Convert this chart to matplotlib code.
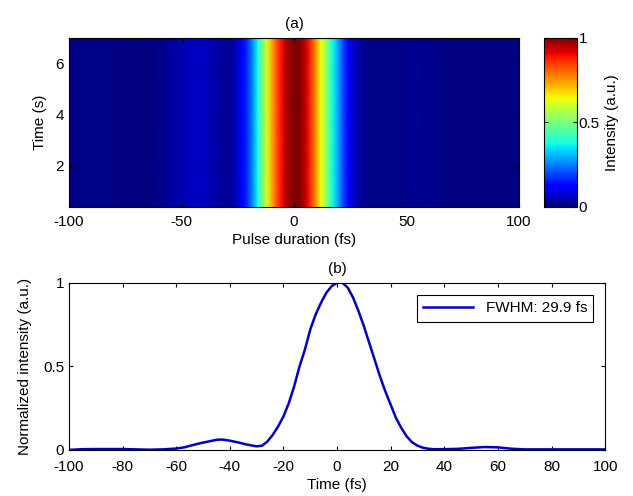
import numpy as np
import matplotlib
matplotlib.use('Agg')
import matplotlib.pyplot as plt

plt.rcParams['font.family'] = ['Liberation Sans', 'DejaVu Sans']
plt.rcParams['font.size'] = 11
plt.rcParams['axes.unicode_minus'] = False

# delay axis (fs) and measured normalized intensity profile
delay_fs = np.array([-100, -95, -90, -80, -75, -70, -65, -60, -57, -54, -51, -48, -45, -43,
                     -40, -37, -34, -31, -30, -28, -26, -24, -22, -20, -18, -16, -14, -12,
                     -10, -8, -6, -4, -2, 0, 2, 4, 6, 8, 10, 12, 14, 16, 18, 20, 22, 24,
                     26, 28, 30, 32, 34, 36, 40, 45, 50, 55, 60, 65, 70, 80, 90, 100])
intensity = np.array([0.0, 0.004, 0.005, 0.005, 0.003, 0.001, 0.003, 0.008, 0.015, 0.028,
                      0.04, 0.05, 0.06, 0.062, 0.055, 0.045, 0.033, 0.024, 0.021, 0.025,
                      0.05, 0.09, 0.14, 0.2, 0.28, 0.38, 0.5, 0.6, 0.72, 0.81, 0.88, 0.94,
                      0.98, 1.0, 1.0, 0.97, 0.91, 0.83, 0.74, 0.64, 0.54, 0.44, 0.35, 0.27,
                      0.19, 0.13, 0.08, 0.045, 0.025, 0.013, 0.007, 0.004, 0.004, 0.006,
                      0.012, 0.017, 0.015, 0.007, 0.003, 0.003, 0.003, 0.003])

# acquisition time (s) of the recorded traces
time_s = np.array([0.4, 1.5, 2.5, 3.5, 4.5, 5.5, 7.0])

fwhm_label = 'FWHM: 29.9 fs'

fig = plt.figure(figsize=(6.33, 4.96), dpi=100)

# (a) trace map
ax1 = fig.add_axes([0.109, 0.583, 0.711, 0.341])
trace_map = np.tile(intensity, (len(time_s), 1))
mesh = ax1.pcolormesh(delay_fs, time_s, trace_map, shading='gouraud',
                      cmap='jet', vmin=0, vmax=1)
ax1.set_xlim(-100, 100)
ax1.set_ylim(0.4, 7)
ax1.set_xticks([-100, -50, 0, 50, 100])
ax1.set_yticks([2, 4, 6])
ax1.tick_params(direction='in', top=True, right=True, length=3)
ax1.tick_params(axis='x', pad=6)
ax1.set_xlabel('Pulse duration (fs)', labelpad=3)
ax1.set_ylabel('Time (s)', labelpad=6)
ax1.set_title('(a)', fontsize=11, pad=7)

cax = fig.add_axes([0.859, 0.583, 0.053, 0.341])
cb = fig.colorbar(mesh, cax=cax, ticks=[0, 0.5, 1])
cb.ax.set_yticklabels(['0', '0.5', '1'])
cb.ax.tick_params(direction='in', length=3, left=True, pad=1)
cb.set_label('Intensity (a.u.)', labelpad=4)
cb.outline.set_linewidth(0.8)

# (b) averaged pulse
ax2 = fig.add_axes([0.109, 0.093, 0.847, 0.337])
ax2.plot(delay_fs, intensity, color='#0000cc', lw=1.8, label=fwhm_label)
ax2.set_xlim(-100, 100)
ax2.set_ylim(0, 1)
ax2.set_xticks(np.arange(-100, 101, 20))
ax2.set_yticks([0, 0.5, 1])
ax2.set_yticklabels(['0', '0.5', '1'])
ax2.tick_params(direction='in', top=True, right=True, length=3)
ax2.tick_params(axis='x', pad=7)
ax2.set_xlabel('Time (fs)', labelpad=3)
ax2.set_ylabel('Normalized intensity (a.u.)', labelpad=8)
ax2.set_title('(b)', fontsize=11, pad=7)
leg = ax2.legend(loc='upper right', fancybox=False, edgecolor='black',
                 framealpha=1, borderpad=0.4, handlelength=3.3,
                 bbox_to_anchor=(0.992, 0.97))
leg.get_frame().set_linewidth(0.8)

for ax in (ax1, ax2):
    for s in ax.spines.values():
        s.set_linewidth(0.8)

fig.savefig('out.png', dpi=100)
